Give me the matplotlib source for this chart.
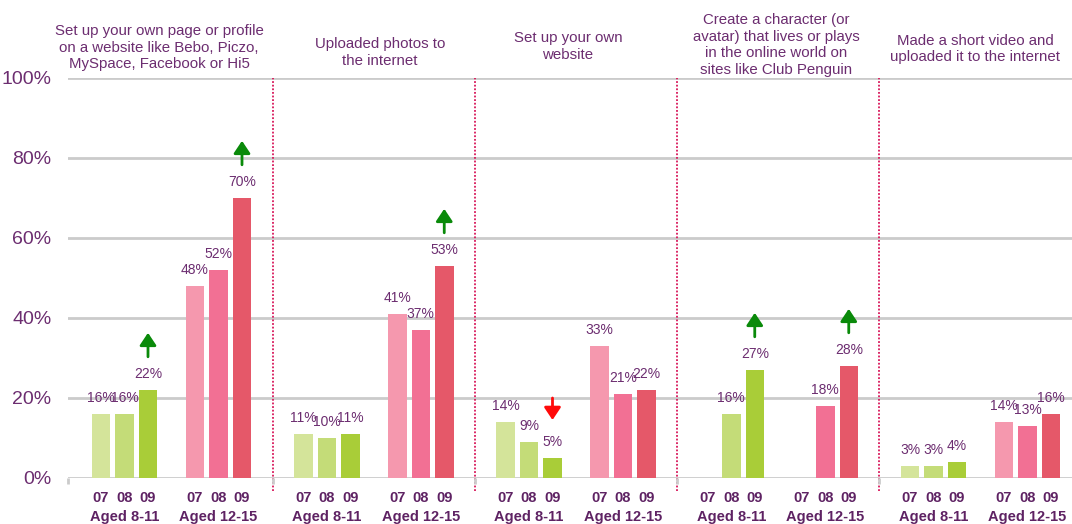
import matplotlib
matplotlib.use("Agg")
import matplotlib.pyplot as plt
import numpy as np

# ---------------- data ----------------
panel_titles = [
    "Set up your own page or profile\non a website like Bebo, Piczo,\nMySpace, Facebook or Hi5",
    "Uploaded photos to\nthe internet",
    "Set up your own\nwebsite",
    "Create a character (or\navatar) that lives or plays\nin the online world on\nsites like Club Penguin",
    "Made a short video and\nuploaded it to the internet",
]
group_labels = ["Aged 8-11", "Aged 12-15"]
years = ["07", "08", "09"]
# values [panel][group][year]; None = not asked
aged_8_11 = [[16, 16, 22], [11, 10, 11], [14, 9, 5], [None, 16, 27], [3, 3, 4]]
aged_12_15 = [[48, 52, 70], [41, 37, 53], [33, 21, 22], [None, 18, 28], [14, 13, 16]]
# significant changes: (panel, group, direction)
changes = [(0, 0, "up"), (0, 1, "up"), (1, 1, "up"), (2, 0, "down"), (3, 0, "up"), (3, 1, "up")]
yticks = [0, 20, 40, 60, 80, 100]

# ---------------- style ----------------
FONT = "Liberation Sans"
purple = "#6c2d70"
purple_dark = "#5e2263"
green_cols = ["#d4e49a", "#c4dc78", "#a9cd38"]
pink_cols = ["#f598ae", "#f27094", "#e55869"]
grid_col = "#cbcbcb"
div_col = "#d8175a"

fig = plt.figure(figsize=(10.72, 5.24), dpi=100)
W, H = 1072, 524
ax_left, ax_right, ax_top, ax_bottom = 68, 1072, 78, 478
ax = fig.add_axes([ax_left / W, 1 - ax_bottom / H, (ax_right - ax_left) / W, (ax_bottom - ax_top) / H])
ax.set_xlim(0, ax_right - ax_left)
ax.set_ylim(0, 100)
for s in ax.spines.values():
    s.set_visible(False)

PANEL_STEP = 202.25
PANEL_C0 = 103.5
GROUP_OFF = 47
BAR_STEP = 23.5
BAR_W = 18.5

for y in yticks:
    ax.axhline(y, color=grid_col, lw=2, zorder=0)

ax.set_yticks(yticks)
ax.set_yticklabels([f"{y}%" for y in yticks], fontsize=14, color=purple, family=FONT)
ax.tick_params(axis="y", length=0, pad=12)

data = [aged_8_11, aged_12_15]
cols = [green_cols, pink_cols]
xt, xtl = [], []
for p in range(len(panel_titles)):
    pc = PANEL_C0 + PANEL_STEP * p
    for g in range(2):
        gc = pc + (g - 0.5) * 2 * GROUP_OFF
        for j in range(3):
            x = gc + (j - 1) * BAR_STEP
            xt.append(x)
            xtl.append(years[j])
            v = data[g][p][j]
            if v is None:
                continue
            ax.bar(x, v, width=BAR_W, color=cols[g][j], zorder=2)
            ax.text(x, v + 4, f"{v}%", ha="center", va="center", fontsize=10,
                    color=purple, family=FONT, zorder=3)
        ax.text(gc, -9.8, group_labels[g], ha="center", va="center", fontsize=10.5,
                fontweight="bold", color=purple_dark, family=FONT, clip_on=False)

ax.set_xticks(xt)
ax.set_xticklabels(xtl, fontsize=10.5, fontweight="bold", color=purple_dark, family=FONT)
ax.tick_params(axis="x", length=0, pad=9)

# dividers + small baseline ticks
div_x = [PANEL_C0 + PANEL_STEP * (p + 0.5) for p in range(len(panel_titles) - 1)]
ax.set_xticks([0] + div_x, minor=True)
ax.tick_params(axis="x", which="minor", length=4, width=2, color=grid_col)
for x in div_x:
    ax.plot([x, x], [-3.2, 100], ls=(0, (1, 1)), color=div_col, lw=1.3, clip_on=False, zorder=1)

# change arrows
for p, g, d in changes:
    pc = PANEL_C0 + PANEL_STEP * p
    gc = pc + (g - 0.5) * 2 * GROUP_OFF
    x = gc + BAR_STEP
    v = data[g][p][2]
    if d == "up":
        tail, head, c = v + 8.3, v + 14.3, "#0a8a0a"
    else:
        tail, head, c = v + 15, v + 9.5, "#ff0a0a"
    ax.annotate("", xy=(x, head), xytext=(x, tail),
                arrowprops=dict(arrowstyle="-|>,head_width=0.5,head_length=0.75",
                                lw=2, color=c, shrinkA=0, shrinkB=0), zorder=4)

# panel titles (pixel anchors)
title_pos = [(159, 47.6, "center"), (380, 52.5, "center"), (568, 46.5, "center"),
             (776.5, 45, "center"), (975, 49, "center")]
for t, (xp, yp, ha) in zip(panel_titles, title_pos):
    fig.text(xp / W, 1 - yp / H, t, ha=ha, va="center", ma="center", fontsize=10.8,
             color=purple, family=FONT, linespacing=1.25)

fig.savefig("out.png", dpi=100)
